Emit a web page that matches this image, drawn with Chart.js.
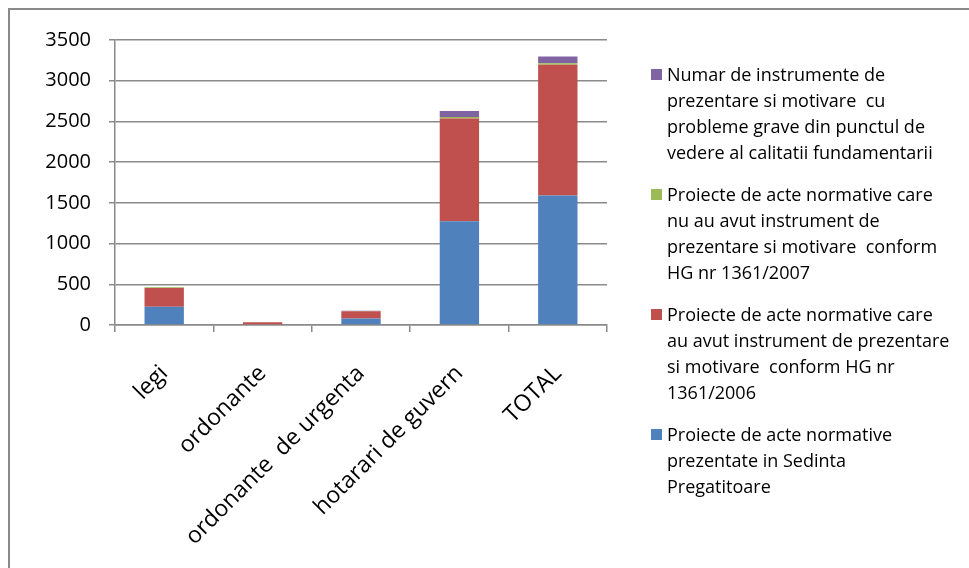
<!DOCTYPE html>
<html>
<head>
<meta charset="utf-8">
<script src="https://cdn.jsdelivr.net/npm/chart.js@4"></script>
<style>
  body { margin: 0; background: #fff; }
  #wrap { position: relative; width: 969px; height: 568px; overflow: hidden; }
  #frame { position: absolute; left: 8px; top: 8px; width: 990px; height: 600px; border: 2px solid #8a8a8a; box-sizing: border-box; }
  canvas { position: absolute; left: 0; top: 0; }
  #legend { position: absolute; left: 651px; top: 61px; width: 315px; font-family: "Open Sans", sans-serif; font-size: 18px; line-height: 26px; color: #000; }
  .item { position: relative; padding-left: 16px; margin-bottom: 16px; white-space: pre; }
  .box { position: absolute; left: 0; top: 8px; width: 11px; height: 11px; }
</style>
</head>
<body>
<div id="wrap">
  <div id="frame"></div>
  <canvas id="c" width="969" height="568"></canvas>
  <div id="legend"></div>
</div>
<script>
const categories = ["legi", "ordonante", "ordonante  de urgenta", "hotarari de guvern", "TOTAL"];
const prezentate = [225, 10, 80, 1275, 1590];
const cuInstrument = [230, 25, 90, 1260, 1605];
const faraInstrument = [10, 0, 2, 18, 20];
const probleme = [0, 0, 3, 75, 82];
const seriesNames = [
  "Proiecte de acte normative prezentate in Sedinta Pregatitoare",
  "Proiecte de acte normative care au avut instrument de prezentare si motivare  conform HG nr 1361/2006",
  "Proiecte de acte normative care nu au avut instrument de prezentare si motivare  conform HG nr 1361/2007",
  "Numar de instrumente de prezentare si motivare  cu probleme grave din punctul de vedere al calitatii fundamentarii"
];
// legend lines as wrapped in the original
const legendLines = [
  ["Proiecte de acte normative", "prezentate in Sedinta", "Pregatitoare"],
  ["Proiecte de acte normative care", "au avut instrument de prezentare", "si motivare  conform HG nr", "1361/2006"],
  ["Proiecte de acte normative care", "nu au avut instrument de", "prezentare si motivare  conform", "HG nr 1361/2007"],
  ["Numar de instrumente de", "prezentare si motivare  cu", "probleme grave din punctul de", "vedere al calitatii fundamentarii"]
];
const colors = ["#4f81bd", "#c0504d", "#9bbb59", "#8064a2"];
const yTicks = [0, 500, 1000, 1500, 2000, 2500, 3000, 3500];

const values = [prezentate, cuInstrument, faraInstrument, probleme];
const datasets = values.map((v, i) => ({
  label: seriesNames[i],
  data: v,
  backgroundColor: colors[i],
  borderWidth: 0,
  barPercentage: 0.4,
  categoryPercentage: 1
}));

new Chart(document.getElementById("c"), {
  type: "bar",
  data: { labels: categories, datasets: datasets },
  options: {
    responsive: false,
    animation: false,
    layout: { padding: { left: 20, right: 362, top: 40, bottom: 5 } },
    plugins: { legend: { display: false }, tooltip: { enabled: false } },
    scales: {
      x: {
        stacked: true,
        offset: true,
        grid: { display: true, drawOnChartArea: false, drawTicks: true, tickLength: 7, color: "#8a8a8a", lineWidth: 1.5, offset: true },
        border: { color: "#8a8a8a", width: 1.5 },
        ticks: { color: "#000", font: { family: "Open Sans, sans-serif", size: 23 }, maxRotation: 45, minRotation: 45, padding: 28 },
        afterFit: s => { s.height = 568 - 325 - 5; }
      },
      y: {
        stacked: true,
        min: 0,
        max: 3500,
        afterBuildTicks: s => { s.ticks = yTicks.map(v => ({ value: v })); },
        grid: { color: "#8a8a8a", lineWidth: 1.5, tickLength: 6 },
        border: { color: "#8a8a8a", width: 1.5 },
        ticks: { color: "#000", font: { family: "Open Sans, sans-serif", size: 20 }, padding: 18, callback: v => String(v) },
        afterFit: s => { s.width = 115 - 20; }
      }
    }
  }
});

const legend = document.getElementById("legend");
for (let i = seriesNames.length - 1; i >= 0; i--) {
  const item = document.createElement("div");
  item.className = "item";
  item.title = seriesNames[i];
  const box = document.createElement("span");
  box.className = "box";
  box.style.background = colors[i];
  item.appendChild(box);
  item.appendChild(document.createTextNode(legendLines[i].join("\n")));
  legend.appendChild(item);
}
</script>
</body>
</html>
